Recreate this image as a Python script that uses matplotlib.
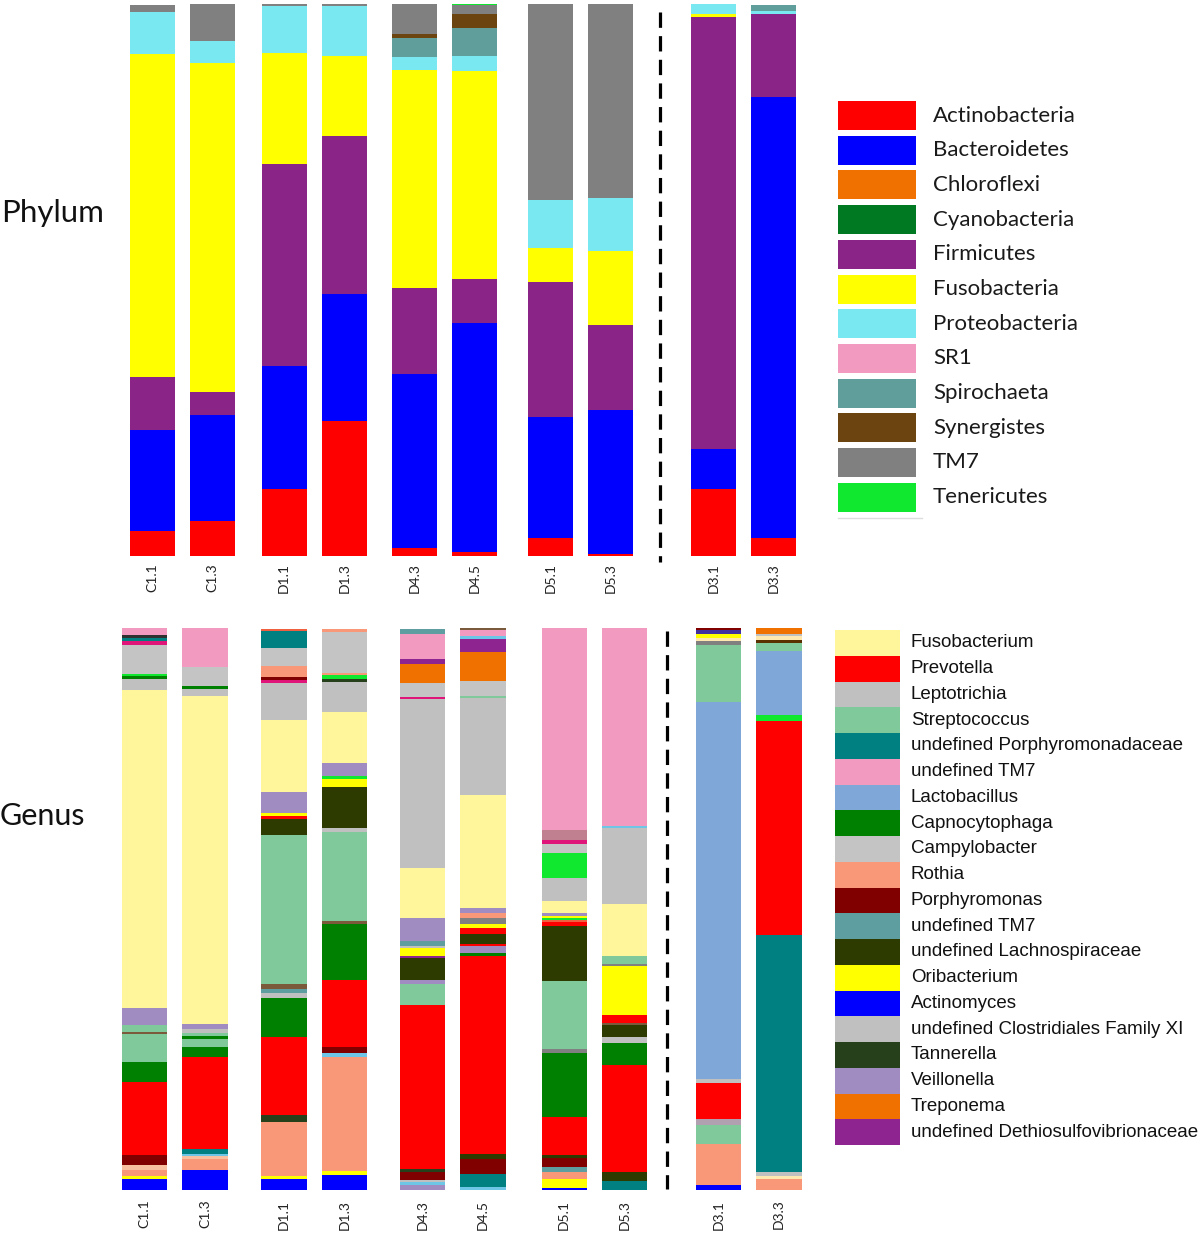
import matplotlib
matplotlib.use("Agg")
import matplotlib.pyplot as plt
from matplotlib.patches import Rectangle
import numpy as np

# ---------------- data ----------------
samples = ["C1.1", "C1.3", "D1.1", "D1.3", "D4.3", "D4.5", "D5.1", "D5.3", "D3.1", "D3.3"]

phyla = ["Actinobacteria", "Bacteroidetes", "Chloroflexi", "Cyanobacteria", "Firmicutes",
         "Fusobacteria", "Proteobacteria", "SR1", "Spirochaeta", "Synergistes", "TM7", "Tenericutes"]
phylum_colors = ["#FF0000", "#0000FF", "#F07000", "#007A22", "#8B2487",
                 "#FFFF00", "#7AE8F0", "#F29AC0", "#5F9E9A", "#6B4410", "#808080", "#10E830"]

Actinobacteria = [4.5, 6.4, 12.2, 24.5, 1.5, 0.7, 3.3, 0.3, 12.2, 3.3]
Bacteroidetes  = [18.4, 19.1, 22.2, 22.9, 31.5, 41.5, 21.8, 26.2, 7.1, 79.9]
Chloroflexi    = [0, 0, 0, 0, 0, 0, 0, 0, 0, 0]
Cyanobacteria  = [0, 0, 0, 0, 0, 0, 0, 0, 0, 0]
Firmicutes     = [9.6, 4.2, 36.7, 28.7, 15.5, 8.0, 24.5, 15.3, 78.4, 14.9]
Fusobacteria   = [58.5, 59.6, 20.0, 14.4, 39.5, 37.7, 6.2, 13.5, 0.5, 0.0]
Proteobacteria = [7.6, 4.0, 8.5, 9.1, 2.4, 2.7, 8.7, 9.5, 1.8, 0.7]
SR1            = [0, 0, 0, 0, 0, 0, 0, 0, 0, 0]
Spirochaeta    = [0, 0, 0, 0, 3.5, 5.1, 0, 0, 0, 1.1]
Synergistes    = [0, 0, 0, 0, 0.7, 2.4, 0, 0, 0, 0]
TM7            = [1.3, 6.7, 0.4, 0.4, 5.5, 1.8, 35.5, 35.2, 0, 0]
Tenericutes    = [0, 0, 0, 0, 0, 0.2, 0, 0, 0, 0]
phylum_values = [Actinobacteria, Bacteroidetes, Chloroflexi, Cyanobacteria, Firmicutes,
                 Fusobacteria, Proteobacteria, SR1, Spirochaeta, Synergistes, TM7, Tenericutes]

# genus legend (keys, shown labels, colours)
genus_keys = ["Fusobacterium", "Prevotella", "Leptotrichia", "Streptococcus",
              "undefined Porphyromonadaceae", "undefined TM7", "Lactobacillus", "Capnocytophaga",
              "Campylobacter", "Rothia", "Porphyromonas", "undefined TM7 (2)",
              "undefined Lachnospiraceae", "Oribacterium", "Actinomyces",
              "undefined Clostridiales Family XI", "Tannerella", "Veillonella", "Treponema",
              "undefined Dethiosulfovibrionaceae"]
genus_labels = [k.replace(" (2)", "") for k in genus_keys]
genus_colors = ["#FFF59A", "#FF0000", "#C0C0C0", "#80C99B",
                "#008080", "#F29AC0", "#7FA8D8", "#008000",
                "#C4C4C4", "#F89878", "#800000", "#5F9EA0",
                "#2E3B00", "#FFFF00", "#0000FF",
                "#C0C0C0", "#25401A", "#A08CC0", "#F07000",
                "#8E2490"]
minor_colors = {"other_peach": "#F9C0A0", "other_brown": "#7A5A3A", "other_lime": "#10E830",
                "other_magenta": "#E0157A", "other_dark": "#303030", "other_lightblue": "#6EC6E6",
                "other_orange": "#F06040", "other_darkgray": "#808080", "other_mauve": "#C08090",
                "other_mauvegray": "#B0A0B0", "other_cream": "#FFE8B0", "other_navy": "#4030A0",
                "other_darkbrown": "#5A3000"}

# genus segments per sample, from bottom to top (% of reads)
genus_C1_1 = [("Actinomyces", 2.0), ("Oribacterium", 0.5), ("Rothia", 1.1), ("other_peach", 0.9),
              ("Porphyromonas", 1.8), ("Prevotella", 13.0), ("Capnocytophaga", 3.4),
              ("Streptococcus", 5.0), ("other_brown", 0.5), ("Streptococcus", 1.1),
              ("Veillonella", 3.0), ("Fusobacterium", 56.6), ("Leptotrichia", 2.1),
              ("Capnocytophaga", 0.5), ("other_lime", 0.4), ("Campylobacter", 5.0),
              ("other_magenta", 0.7), ("undefined Porphyromonadaceae", 0.7), ("other_dark", 0.4),
              ("undefined TM7", 1.3)]
genus_C1_3 = [("Actinomyces", 3.6), ("Rothia", 2.0), ("other_peach", 0.4), ("other_lightblue", 0.4),
              ("undefined Porphyromonadaceae", 0.9), ("Prevotella", 16.4), ("Capnocytophaga", 1.8),
              ("Streptococcus", 1.4), ("Capnocytophaga", 0.5), ("Streptococcus", 0.5),
              ("Leptotrichia", 0.7), ("Veillonella", 0.9), ("Fusobacterium", 58.4),
              ("Leptotrichia", 1.3), ("Capnocytophaga", 0.4), ("Campylobacter", 3.4),
              ("undefined TM7", 7.1)]
genus_D1_1 = [("Actinomyces", 2.0), ("Oribacterium", 0.5), ("Rothia", 9.6), ("Tannerella", 1.3),
              ("Prevotella", 13.8), ("Capnocytophaga", 7.0), ("Leptotrichia", 0.9),
              ("undefined TM7 (2)", 0.7), ("other_brown", 0.9), ("Streptococcus", 26.4),
              ("undefined Lachnospiraceae", 3.0), ("Prevotella", 0.4), ("Oribacterium", 0.5),
              ("Veillonella", 3.8), ("Fusobacterium", 12.9), ("Leptotrichia", 6.6),
              ("other_magenta", 0.4), ("Porphyromonas", 0.5), ("Rothia", 2.0),
              ("Campylobacter", 3.2), ("undefined Porphyromonadaceae", 3.0), ("other_orange", 0.4)]
genus_D1_3 = [("Actinomyces", 2.7), ("Oribacterium", 0.7), ("Rothia", 20.2), ("other_lightblue", 0.7),
              ("Porphyromonas", 1.1), ("Prevotella", 12.0), ("Capnocytophaga", 10.0),
              ("other_brown", 0.4), ("Streptococcus", 15.9), ("Leptotrichia", 0.7),
              ("undefined Lachnospiraceae", 7.3), ("Oribacterium", 1.4), ("other_lime", 0.5),
              ("Veillonella", 2.3), ("Fusobacterium", 9.1), ("Leptotrichia", 5.4),
              ("Tannerella", 0.5), ("other_lime", 0.7), ("Rothia", 0.4), ("Campylobacter", 7.3),
              ("Rothia", 0.5)]
genus_D4_3 = [("Veillonella", 0.9), ("other_lightblue", 0.5), ("Leptotrichia", 0.4),
              ("Porphyromonas", 1.4), ("Tannerella", 0.5), ("Prevotella", 29.3),
              ("Streptococcus", 3.6), ("Veillonella", 0.7), ("undefined Lachnospiraceae", 3.9),
              ("undefined Dethiosulfovibrionaceae", 0.4), ("Oribacterium", 1.4),
              ("Leptotrichia", 0.4), ("undefined TM7 (2)", 0.9), ("Veillonella", 4.1),
              ("Fusobacterium", 8.9), ("Leptotrichia", 30.0), ("other_magenta", 0.4),
              ("Campylobacter", 2.5), ("Treponema", 3.4), ("undefined Dethiosulfovibrionaceae", 0.9),
              ("undefined TM7", 4.5), ("undefined TM7 (2)", 0.9)]
genus_D4_5 = [("other_lightblue", 0.5), ("undefined Porphyromonadaceae", 2.3), ("Porphyromonas", 2.7),
              ("undefined Lachnospiraceae", 0.9), ("Prevotella", 35.2), ("Capnocytophaga", 0.5),
              ("Veillonella", 1.4), ("Prevotella", 0.2), ("undefined Lachnospiraceae", 1.8),
              ("Prevotella", 1.1), ("Oribacterium", 0.7), ("other_darkgray", 1.1), ("Rothia", 0.9),
              ("Veillonella", 0.9), ("Fusobacterium", 20.0), ("Leptotrichia", 17.3),
              ("Streptococcus", 0.4), ("Campylobacter", 2.7), ("Treponema", 5.2),
              ("undefined Dethiosulfovibrionaceae", 2.3), ("other_lightblue", 0.4),
              ("undefined TM7", 1.1), ("other_brown", 0.5)]
genus_D5_1 = [("Actinomyces", 0.4), ("Oribacterium", 1.6), ("Rothia", 1.2), ("undefined TM7 (2)", 0.9),
              ("Porphyromonas", 1.6), ("undefined Lachnospiraceae", 0.5), ("Prevotella", 6.8),
              ("Capnocytophaga", 11.4), ("other_darkgray", 0.7), ("Streptococcus", 12.0),
              ("undefined Lachnospiraceae", 9.8), ("Prevotella", 0.7), ("other_orange", 0.4),
              ("other_lime", 0.4), ("Oribacterium", 0.4), ("Veillonella", 0.5),
              ("Fusobacterium", 2.1), ("Leptotrichia", 4.1), ("other_lime", 4.5),
              ("Campylobacter", 1.6), ("other_magenta", 0.7), ("other_mauve", 1.8),
              ("undefined TM7", 35.9)]
genus_D5_3 = [("undefined Porphyromonadaceae", 1.6), ("undefined Lachnospiraceae", 1.6),
              ("Prevotella", 19.1), ("Capnocytophaga", 3.9), ("Leptotrichia", 1.1),
              ("undefined Lachnospiraceae", 2.0), ("other_brown", 0.5), ("Prevotella", 1.3),
              ("Oribacterium", 8.8), ("other_darkgray", 0.4), ("Streptococcus", 1.3),
              ("Fusobacterium", 9.3), ("Leptotrichia", 13.6), ("other_lightblue", 0.2),
              ("undefined TM7", 35.3)]
genus_D3_1 = [("Actinomyces", 0.9), ("Rothia", 7.3), ("Streptococcus", 3.4), ("other_mauvegray", 1.1),
              ("Prevotella", 6.3), ("Leptotrichia", 0.7), ("Lactobacillus", 67.1),
              ("Streptococcus", 10.2), ("other_darkgray", 0.7), ("other_cream", 0.5),
              ("Oribacterium", 0.7), ("other_navy", 0.7), ("Porphyromonas", 0.4)]
genus_D3_3 = [("Rothia", 2.0), ("other_cream", 0.5), ("Leptotrichia", 0.7),
              ("undefined Porphyromonadaceae", 42.1), ("Prevotella", 38.2), ("other_lime", 1.1),
              ("Lactobacillus", 11.3), ("Streptococcus", 1.4), ("other_darkbrown", 0.5),
              ("other_cream", 0.7), ("Leptotrichia", 0.5), ("Treponema", 1.0)]
genus_samples = [genus_C1_1, genus_C1_3, genus_D1_1, genus_D1_3, genus_D4_3,
                 genus_D4_5, genus_D5_1, genus_D5_3, genus_D3_1, genus_D3_3]

# ---------------- layout ----------------
W, H = 1200, 1235
FONT = "Lato"
pair_offsets = [0, 1]
phylum_group_starts = [0, 2.19, 4.36, 6.63, 9.34]
genus_group_starts = [0, 2.31, 4.60, 6.94, 9.49]
bar_w = 0.75


def positions(starts):
    return [s + o for s in starts for o in pair_offsets]


color_lookup = dict(zip(genus_keys, genus_colors))
color_lookup.update(minor_colors)

fig = plt.figure(figsize=(W / 100, H / 100), dpi=100)

# ---- phylum panel ----
axp = fig.add_axes([115 / W, 1 - 556 / H, 695 / W, 552 / H])
xp = positions(phylum_group_starts)
bottom = np.zeros(len(samples))
for vals, col in zip(phylum_values, phylum_colors):
    v = np.array(vals, dtype=float)
    axp.bar(xp, v, bottom=bottom, width=bar_w, color=col, linewidth=0)
    bottom += v
axp.set_xlim(-0.63, 10.95)
axp.set_ylim(0, 100)
axp.set_xticks(xp)
axp.set_xticklabels(samples, rotation=90, fontsize=10, family=FONT, color="#222222")
axp.tick_params(axis="x", length=0, pad=5)
axp.set_yticks([])
for s in axp.spines.values():
    s.set_visible(False)
axp.plot([8.45, 8.45], [98.5, -1.0], color="black", lw=2.3, dashes=(4.8, 2.6),
         clip_on=False)

# ---- genus panel ----
axg = fig.add_axes([110 / W, 1 - 1190 / H, 710 / W, 562 / H])
xg = positions(genus_group_starts)
for x, segs in zip(xg, genus_samples):
    b = 0.0
    for name, val in segs:
        axg.bar(x, val, bottom=b, width=bar_w, color=color_lookup[name], linewidth=0)
        b += val
axg.set_xlim(-0.57, 11.17)
axg.set_ylim(0, 100)
axg.set_xticks(xg)
axg.set_xticklabels(samples, rotation=90, fontsize=10, family=FONT, color="#222222")
axg.tick_params(axis="x", length=0, pad=7)
axg.set_yticks([])
for s in axg.spines.values():
    s.set_visible(False)
axg.plot([8.64, 8.64], [99.5, 0.2], color="black", lw=2.3, dashes=(4.8, 2.6), clip_on=False)

# ---- overlay: titles and legends (pixel coordinates) ----
ov = fig.add_axes([0, 0, 1, 1])
ov.set_xlim(0, W)
ov.set_ylim(H, 0)
ov.axis("off")
ov.text(1, 213, "Phylum", fontsize=22.5, family=FONT, ha="left", va="center", color="#111111")
ov.text(0, 816, "Genus", fontsize=22, family=FONT, ha="left", va="center", color="#111111")

row_p = 34.7
for i, (name, col) in enumerate(zip(phyla, phylum_colors)):
    y0 = 101 + i * row_p
    ov.add_patch(Rectangle((838, y0), 78, 29, facecolor=col, edgecolor="none"))
    ov.text(933, y0 + 14.5, name, fontsize=16, family=FONT, ha="left", va="center",
            color="#1a1a1a")
ov.plot([838, 922], [518, 518], color="#DDDDDD", lw=1)

row_g = 25.75
for i, (lab, col) in enumerate(zip(genus_labels, genus_colors)):
    y0 = 630 + i * row_g
    ov.add_patch(Rectangle((835, y0), 65, row_g, facecolor=col, edgecolor="none"))
    ov.text(911, y0 + row_g / 2, lab, fontsize=13.5, family="Liberation Sans", ha="left",
            va="center", color="#111111")

fig.savefig("out.png", dpi=100)
